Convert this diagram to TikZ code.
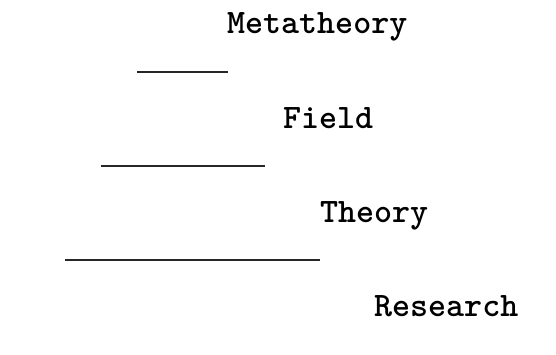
\documentclass[tikz,border=0pt]{standalone}
\usepackage{fontspec}
\usetikzlibrary{positioning}

\begin{document}
\begin{tikzpicture}[
      x=1pt,y=-1pt,
      level/.style={anchor=base west,inner sep=0pt,font=\ttfamily\bfseries\fontsize{34.3}{34.3}\selectfont},
      rule/.style={line width=1.5pt,black!85}
    ]
    \useasboundingbox (0,0) rectangle (556,354);
    \node[level] (meta) at (227,33) {Metatheory};
    \node[level] (field) at (283,128) {Field};
    \node[level] (theory) at (320,222) {Theory};
    \node[level] (research) at (374,316) {Research};
    \draw[rule] (137,72) -- (228,72);
    \draw[rule] (101,166) -- (265,166);
    \draw[rule] (65,260) -- (320,260);
  \end{tikzpicture}
\end{document}
